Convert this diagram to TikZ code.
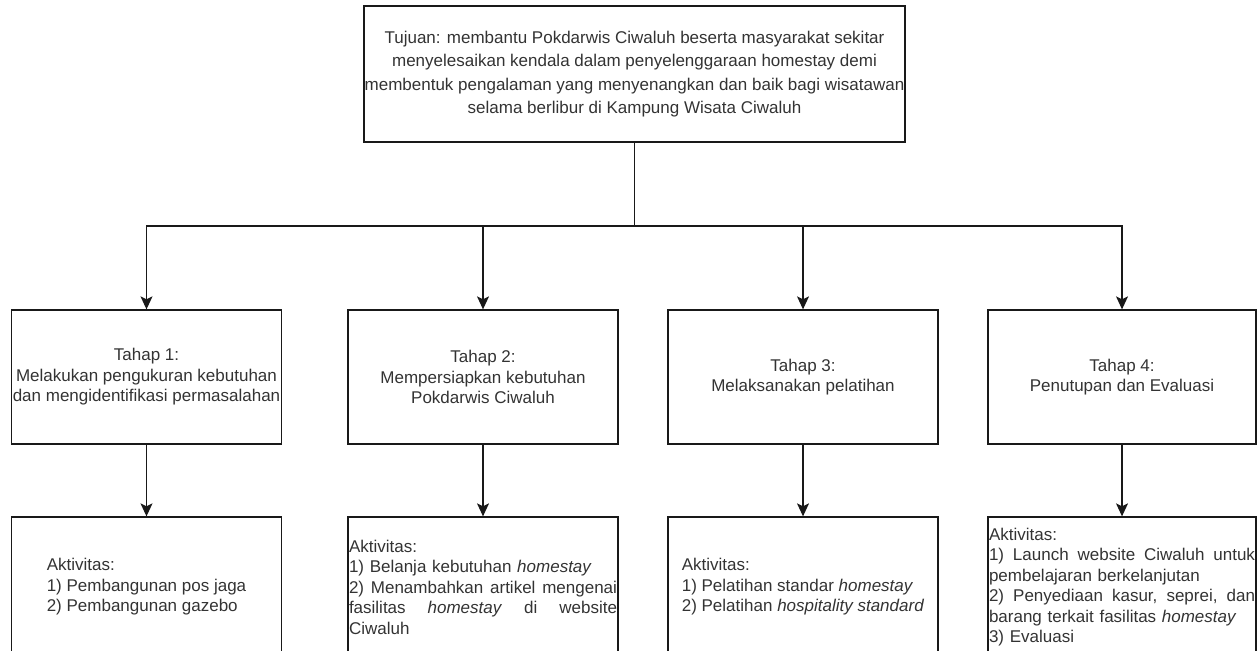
\documentclass[tikz,border=0pt]{standalone}
\usepackage{fontspec}
\setmainfont{Liberation Sans}
\usetikzlibrary{arrows.meta}
\begin{document}
\begin{tikzpicture}[x=1pt,y=-1pt,
  box/.style={draw=black!90, line width=1.3pt, rectangle, inner sep=0pt,
    minimum width=270pt, minimum height=134pt},
  actbox/.style={box, minimum height=140pt},
  txt/.style={font=\fontsize{17}{20.5}\selectfont, text=black!80},
  conn/.style={line width=1.3pt, draw=black!90},
  arr/.style={conn, -{Stealth[length=13pt,width=12pt,inset=3pt]}}]
\useasboundingbox (0,0) rectangle (1257,650);
\clip (0,0) rectangle (1257,650);

% top box
\node[box, txt, font=\fontsize{17}{23.5}\selectfont, minimum width=541pt, minimum height=136pt, align=center]
  (top) at (634.5,74)
  {Tujuan: membantu Pokdarwis Ciwaluh beserta masyarakat sekitar\\
   menyelesaikan kendala dalam penyelenggaraan homestay demi\\
   membentuk pengalaman yang menyenangkan dan baik bagi wisatawan\\
   selama berlibur di Kampung Wisata Ciwaluh};

% stage boxes
\node[box, txt, align=center] (t1) at (146.5,377)
  {Tahap 1:\\Melakukan pengukuran kebutuhan\\dan mengidentifikasi permasalahan};
\node[box, txt, align=center] (t2) at (483,377)
  {Tahap 2:\\Mempersiapkan kebutuhan\\Pokdarwis Ciwaluh};
\node[box, txt, align=center] (t3) at (803,377)
  {Tahap 3:\\Melaksanakan pelatihan};
\node[box, txt, minimum width=268pt, align=center] (t4) at (1122,377)
  {Tahap 4:\\Penutupan dan Evaluasi};

% activity boxes (they run past the lower edge)
\node[actbox, txt, align=left] (a1) at (146.5,587)
  {Aktivitas:\\1) Pembangunan pos jaga\\2) Pembangunan gazebo};
\node[actbox, txt, text width=268pt, align=left] (a2) at (483,587)
  {Aktivitas:\\
   1) Belanja kebutuhan \textit{homestay}\\
   2)\hfill{} Menambahkan\hfill{} artikel\hfill{} mengenai\\
   fasilitas\hfill{} \textit{homestay}\hfill{} di\hfill{} website\\
   Ciwaluh};
\node[actbox, txt, align=left] (a3) at (803,587)
  {Aktivitas:\\1) Pelatihan standar \textit{homestay}\\2) Pelatihan \textit{hospitality standard}};
\node[actbox, txt, minimum width=268pt, text width=266pt, align=left] (a4) at (1122,587)
  {Aktivitas:\\
   1)\hfill{} Launch\hfill{} website\hfill{} Ciwaluh\hfill{} untuk\\
   pembelajaran berkelanjutan\\
   2)\hfill{} Penyediaan\hfill{} kasur,\hfill{} seprei,\hfill{} dan\\
   barang terkait fasilitas \textit{homestay}\\
   3) Evaluasi};

% connectors
\coordinate (j) at (634.5,226);
\draw[conn] (top.south) -- (j);
\draw[arr] (j) -| (t1.north);
\draw[arr] (j) -| (t2.north);
\draw[arr] (j) -| (t3.north);
\draw[arr] (j) -| (t4.north);
\draw[arr] (t1) -- (a1);
\draw[arr] (t2) -- (a2);
\draw[arr] (t3) -- (a3);
\draw[arr] (t4) -- (a4);
\end{tikzpicture}
\end{document}
